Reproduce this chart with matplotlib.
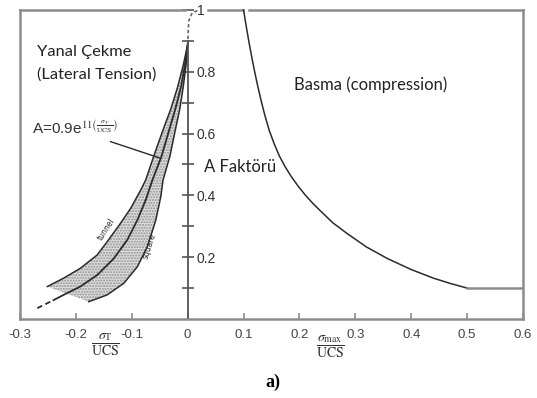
import numpy as np
import matplotlib.pyplot as plt

plt.rcParams['mathtext.fontset'] = 'stix'

# tension side (sigma_T / UCS, A)
tunnel_x = [-0.251, -0.222, -0.192, -0.162, -0.144, -0.120, -0.102, -0.084, -0.075,
            -0.061, -0.044, -0.030, -0.018, -0.008, 0.0]
tunnel_y = [0.105, 0.132, 0.164, 0.207, 0.250, 0.310, 0.358, 0.417, 0.450,
            0.525, 0.612, 0.680, 0.750, 0.820, 0.887]
mid_x = [-0.240, -0.222, -0.192, -0.162, -0.132, -0.108, -0.090, -0.075, -0.063,
         -0.047, -0.033, -0.022, -0.012, -0.005, 0.0]
mid_y = [0.061, 0.078, 0.105, 0.142, 0.196, 0.256, 0.320, 0.385, 0.450,
         0.525, 0.612, 0.680, 0.750, 0.820, 0.887]
mid_dash_x = [-0.269, -0.240]
mid_dash_y = [0.035, 0.061]
square_x = [-0.177, -0.144, -0.114, -0.090, -0.072, -0.057, -0.048, -0.044,
            -0.032, -0.022, -0.014, -0.008, -0.003, 0.0]
square_y = [0.056, 0.078, 0.116, 0.169, 0.234, 0.320, 0.396, 0.450,
            0.525, 0.612, 0.680, 0.750, 0.820, 0.887]
top_dash_x = [0.0, 0.002, 0.008, 0.02]
top_dash_y = [0.887, 0.965, 0.99, 1.0]

# compression side (sigma_max / UCS, A)
comp_x = [0.1, 0.105, 0.11, 0.115, 0.119, 0.125, 0.131, 0.138, 0.146, 0.155, 0.164, 0.174,
          0.185, 0.198, 0.211, 0.224, 0.2375, 0.26, 0.285, 0.32, 0.357, 0.4, 0.44,
          0.47, 0.5]
comp_y = [1.0, 0.945, 0.893, 0.845, 0.808, 0.757, 0.710, 0.660, 0.610, 0.566, 0.528, 0.494,
          0.462, 0.429, 0.400, 0.374, 0.350, 0.311, 0.277, 0.233, 0.196, 0.160, 0.132,
          0.115, 0.1]
flat_x = [0.5, 0.6]
flat_y = [0.1, 0.1]

xticks = [-0.3, -0.2, -0.1, 0, 0.1, 0.2, 0.3, 0.4, 0.5, 0.6]
xlabels = ['-0.3', '-0.2', '-0.1', '0', '0.1', '0.2', '0.3', '0.4', '0.5', '0.6']
yticks = [0.1, 0.2, 0.3, 0.4, 0.5, 0.6, 0.7, 0.8, 0.9, 1.0]
ylabels = ['', '0.2', '', '0.4', '', '0.6', '', '0.8', '', '1']

frame = '#8c8c8c'
ink = '#2b2b2b'
tickcol = '#555555'

fig = plt.figure(figsize=(5.37, 3.98), dpi=100)
ax = fig.add_axes([0.0372, 0.1985, 0.9367, 0.7765])
ax.set_xlim(-0.3, 0.6)
ax.set_ylim(0, 1.0)

# frame
ax.spines['top'].set_visible(False)
ax.spines['left'].set_visible(False)
ax.spines['bottom'].set_color(frame)
ax.spines['bottom'].set_linewidth(1.8)
ax.plot([-0.3, -0.3], [0, 1.0], color=frame, lw=1.8, clip_on=False)
ax.plot([0.6, 0.6], [0, 1.0], color=frame, lw=1.8, clip_on=False)
ax.plot([-0.3, -0.004], [1.0, 1.0], color=frame, lw=1.8, clip_on=False)
ax.plot([0.036, 0.099], [1.0, 1.0], color=frame, lw=1.8, clip_on=False)
ax.plot([0.109, 0.6], [1.0, 1.0], color=frame, lw=1.8, clip_on=False)

# A axis on x = 0
ax.spines['right'].set_position(('data', 0))
ax.spines['right'].set_bounds(0, 0.9)
ax.spines['right'].set_color(tickcol)
ax.spines['right'].set_linewidth(1.3)
ax.yaxis.tick_right()
ax.set_yticks(yticks)
ax.set_yticklabels(ylabels)
ax.tick_params(axis='y', direction='inout', length=9, width=1.2, color=tickcol,
               pad=2, labelsize=10, labelcolor='#333333')
ax.set_xticks(xticks)
ax.set_xticklabels(xlabels)
ax.tick_params(axis='x', direction='in', length=4, width=1.2, color=frame,
               pad=7, labelsize=9.5, labelcolor='#444444')
for t in ax.get_xticklabels() + ax.get_yticklabels():
    t.set_family('Liberation Sans')

# shaded band between tunnel and square
band_x = tunnel_x + square_x[::-1]
band_y = tunnel_y + square_y[::-1]
ax.fill(band_x, band_y, facecolor='#dedede', edgecolor='#8f8f8f', hatch='......', lw=0)

ax.plot(tunnel_x, tunnel_y, color=ink, lw=1.1)
ax.plot(mid_x, mid_y, color=ink, lw=1.3)
ax.plot(mid_dash_x, mid_dash_y, color=ink, lw=1.3, ls=(0, (3, 2)))
ax.plot(square_x, square_y, color=ink, lw=1.1)
ax.plot(top_dash_x, top_dash_y, color='#666666', lw=1.2, ls=(0, (2, 1.5)), clip_on=False)

ax.plot(comp_x, comp_y, color=ink, lw=1.1, clip_on=False)
ax.plot(flat_x, flat_y, color=frame, lw=1.8)

ax.text(-0.146, 0.290, 'tunnel', rotation=57, fontsize=5.5, ha='center', va='center', color=ink)
ax.text(-0.068, 0.236, 'square', rotation=72, fontsize=5.5, ha='center', va='center', color=ink)

# labels
lab = dict(family='Lato', color='#222222', va='center', ha='left')
ax.text(-0.269, 0.864, 'Yanal Çekme', fontsize=11.8, **lab)
ax.text(-0.269, 0.790, '(Lateral Tension)', fontsize=11.8, **lab)
ax.text(0.19, 0.757, 'Basma (compression)', fontsize=12, **lab)
ax.text(0.029, 0.492, 'A Faktörü', fontsize=12, **lab)

ax.text(-0.278, 0.62, r'A=0.9e$^{11\left(\frac{\sigma_T}{\mathrm{UCS}}\right)}$', fontsize=11,
        family='Liberation Sans', color='#333333', va='center', ha='left')
ax.plot([-0.138, -0.050], [0.574, 0.521], color=ink, lw=1.0)

ax.text(-0.147, -0.084, r'$\dfrac{\sigma_{\mathrm{T}}}{\mathrm{UCS}}$', fontsize=10,
        ha='center', va='center', color='#333333', clip_on=False)
ax.text(0.256, -0.09, r'$\dfrac{\sigma_{\mathrm{max}}}{\mathrm{UCS}}$', fontsize=10,
        ha='center', va='center', color='#333333', clip_on=False)

fig.text(0.508, 0.04, 'a)', fontsize=13, fontweight='bold', family='Liberation Serif',
         ha='center', va='center')

fig.savefig('out.png', dpi=100)
